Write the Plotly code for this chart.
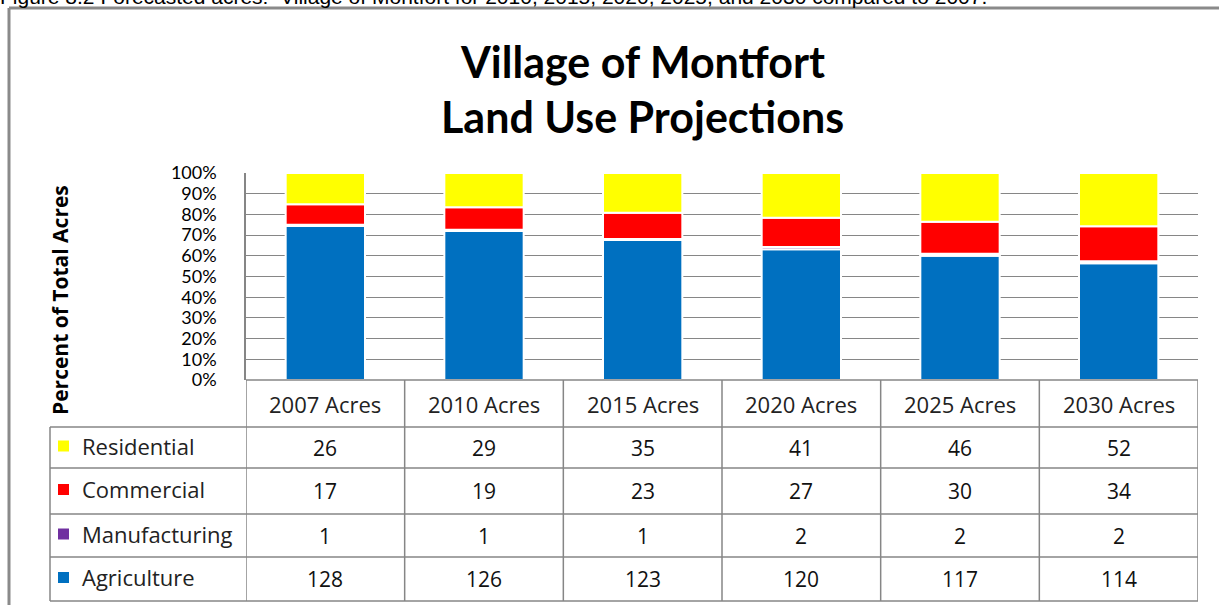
import plotly.graph_objects as go

# ---- data ----
years = ["2007 Acres", "2010 Acres", "2015 Acres", "2020 Acres", "2025 Acres", "2030 Acres"]
residential = [26, 29, 35, 41, 46, 52]
commercial = [17, 19, 23, 27, 30, 34]
manufacturing = [1, 1, 1, 2, 2, 2]
agriculture = [128, 126, 123, 120, 117, 114]
y_ticks = [0, 10, 20, 30, 40, 50, 60, 70, 80, 90, 100]
y_tick_labels = [f"{v}%" for v in y_ticks]

series = [
    ("Agriculture", agriculture, "#0070C0"),
    ("Manufacturing", manufacturing, "#7030A0"),
    ("Commercial", commercial, "#FF0000"),
    ("Residential", residential, "#FFFF00"),
]
table_order = ["Residential", "Commercial", "Manufacturing", "Agriculture"]

W, H = 1219, 605
L, R, T, B = 246, 1198, 173, 380  # plot area in pixels

def px(x):
    return (x - L) / (R - L)

def py(y):
    return (B - y) / (B - T)

FONT = "Lato, Carlito, Calibri, sans-serif"
TFONT = "'Open Sans', Lato, sans-serif"
GRID = "#868686"

fig = go.Figure()
for name, vals, col in series:
    fig.add_trace(go.Bar(
        x=years, y=vals, name=name, marker=dict(color=col, line=dict(color="white", width=2)),
        width=0.5, showlegend=False))

fig.update_layout(
    width=W, height=H,
    margin=dict(l=L, r=W - R, t=T, b=H - B),
    barmode="relative", barnorm="percent",
    paper_bgcolor="white", plot_bgcolor="white",
    font=dict(family=FONT, color="black"),
    xaxis=dict(range=[-0.5, 5.5], showticklabels=False, showgrid=False, zeroline=False,
               showline=False, ticks=""),
    yaxis=dict(range=[0, 100], tickvals=y_ticks, ticktext=y_tick_labels,
               tickfont=dict(size=18, family=FONT, color="black"),
               showgrid=True, gridcolor=GRID, gridwidth=1, zeroline=False,
               showline=True, linecolor=GRID, linewidth=1.5, ticks="",
               ticklabelstandoff=24),
)

shapes = []
ann = []
line = dict(color=GRID, width=1.5)

# outer frame
shapes.append(dict(type="line", xref="paper", yref="paper", x0=px(9), x1=px(9), y0=py(8), y1=py(640),
                   line=dict(color="#8a8a8a", width=3)))
shapes.append(dict(type="line", xref="paper", yref="paper", x0=px(9), x1=px(1230), y0=py(8), y1=py(8),
                   line=dict(color="#8a8a8a", width=3)))

# table rows (pixel positions)
row_lines = [427, 468, 514, 557, 601]
for yl in row_lines:
    shapes.append(dict(type="line", xref="paper", yref="paper", x0=px(50), x1=1, y0=py(yl), y1=py(yl), line=line))
shapes.append(dict(type="line", xref="paper", yref="paper", x0=0, x1=1, y0=0, y1=0, line=line))
shapes.append(dict(type="line", xref="paper", yref="paper", x0=px(50), x1=px(50),
                   y0=py(row_lines[0]), y1=py(row_lines[-1]), line=line))
for i in range(len(years) + 1):
    shapes.append(dict(type="line", xref="x", yref="paper", x0=i - 0.5, x1=i - 0.5,
                       y0=0, y1=py(row_lines[-1]), line=line))

# header
for yr in years:
    ann.append(dict(x=yr, xref="x", y=py((B + row_lines[0]) / 2), yref="paper", text=yr,
                    xanchor="center", yanchor="middle",
                    showarrow=False, font=dict(size=22, family=TFONT, color="#222")))

colors = {n: c for n, _, c in series}
data = {n: v for n, v, _ in series}
tops = row_lines[:-1]
bots = row_lines[1:]
for name, t, b in zip(table_order, tops, bots):
    cy = (t + b) / 2
    shapes.append(dict(type="rect", xref="paper", yref="paper", x0=px(58), x1=px(69),
                       y0=py(cy + 4), y1=py(cy - 7), fillcolor=colors[name], line=dict(width=0)))
    ann.append(dict(x=px(80), xref="paper", y=py(cy - 2), yref="paper", text=name,
                    xanchor="left", yanchor="middle",
                    showarrow=False, font=dict(size=22, family=TFONT, color="#222")))
    for yr, v in zip(years, data[name]):
        ann.append(dict(x=yr, xref="x", y=py(cy), yref="paper", text=str(v),
                        xanchor="center", yanchor="middle",
                        showarrow=False, font=dict(size=21, family=TFONT, color="#111")))

# axis title
ann.append(dict(x=px(60), xref="paper", y=py(300), yref="paper", text="<b>Percent of Total Acres</b>",
                xanchor="center", yanchor="middle",
                textangle=-90, showarrow=False, font=dict(size=21, family=TFONT, color="black")))

# chart title
ann.append(dict(x=px(642), xref="paper", y=py(61), yref="paper", text="<b>Village of Montfort</b>",
                xanchor="center", yanchor="middle",
                showarrow=False, font=dict(size=43, family=FONT, color="black")))
ann.append(dict(x=px(642), xref="paper", y=py(117), yref="paper", text="<b>Land Use Projections</b>",
                xanchor="center", yanchor="middle",
                showarrow=False, font=dict(size=43, family=FONT, color="black")))

# caption (partially cut off at top of page, as in the reference)
ann.append(dict(x=px(-2), xref="paper", y=py(10), yref="paper", xanchor="left", yanchor="bottom",
                text="Figure 8.2 Forecasted acres:  Village of Montfort for 2010, 2015, 2020, 2025, and 2030 compared to 2007.",
                showarrow=False, font=dict(size=21, family="Liberation Sans, Arial", color="black")))

fig.update_layout(shapes=shapes, annotations=ann)
fig.write_html("out.html", config={"displayModeBar": False},
               post_script="document.body.style.margin='0';document.body.style.overflow='hidden';")
